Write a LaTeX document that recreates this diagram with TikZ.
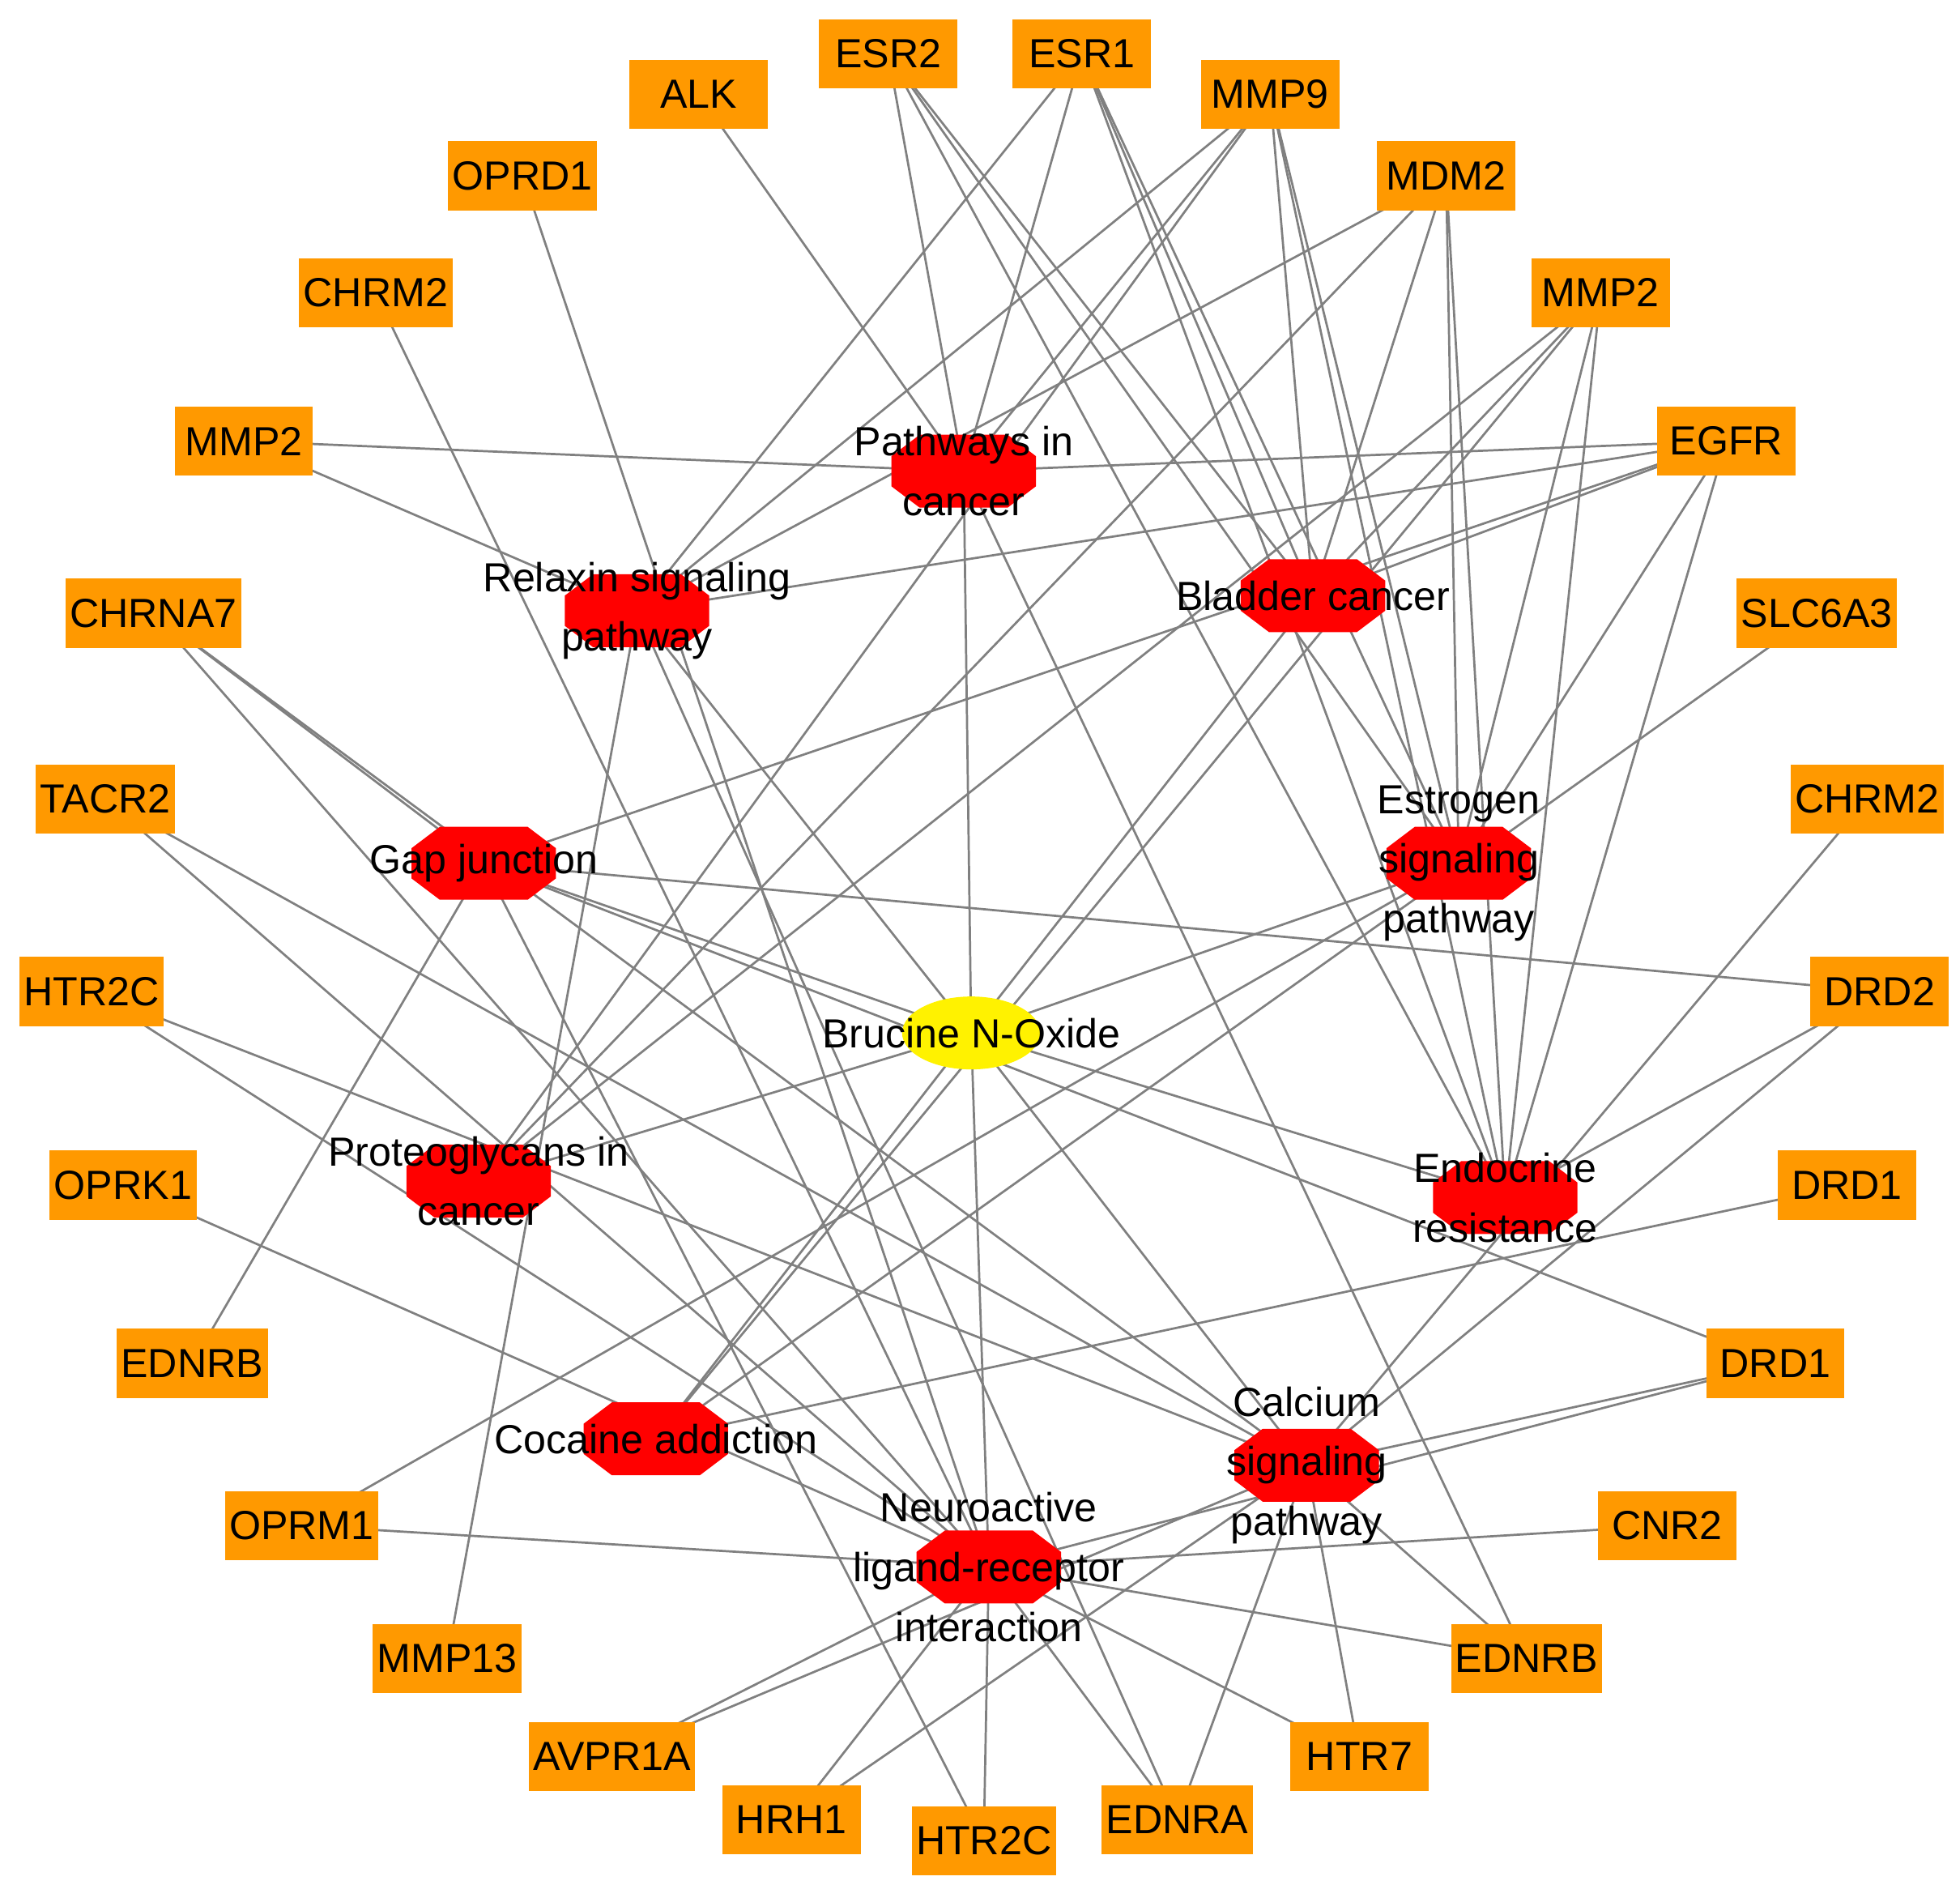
\documentclass[tikz,border=0pt]{standalone}
\usepackage{fontspec}
\setmainfont{Liberation Sans}
\definecolor{gbox}{RGB}{255,153,0}
\definecolor{gedge}{RGB}{128,128,128}
\tikzset{
 gene/.style={fill=gbox,minimum width=1.1cm,minimum height=0.55cm,inner sep=1pt,font=\fontsize{9.2}{10}\selectfont},
 lbl/.style={align=center,font=\fontsize{9.2}{13.5}\selectfont},
 link/.style={gedge,line width=0.5pt},
 octa/.pic={\fill[red] (-57.5,12)--(-35,29)--(35,29)--(57.5,12)--(57.5,-12)--(35,-29)--(-35,-29)--(-57.5,-12)--cycle;}
}
\begin{document}
\begin{tikzpicture}[x=0.01cm,y=-0.01cm]
\useasboundingbox (0,0) rectangle (1560,1500);
% pathway positions
\coordinate (pc) at (767,375);
\coordinate (rs) at (507,486);
\coordinate (bc) at (1045,474);
\coordinate (gj) at (385,687);
\coordinate (es) at (1161,687);
\coordinate (bno) at (773,822);
\coordinate (pg) at (381,940);
\coordinate (er) at (1198,953);
\coordinate (ca) at (522,1145);
\coordinate (cs) at (1040,1166);
\coordinate (nl) at (787,1247);
% gene positions
\foreach \n/\x/\y in {alk/556/75,esrb/707/43,esra/861/43,mmpix/1011/75,oprd/416/140,mdm/1151/140,
 chrma/299/233,mmpa/1274/233,mmpb/194/351,egfr/1374/351,chrna/122/488,slc/1446/488,
 tacr/84/636,chrmb/1486/636,htra/73/789,drdii/1496/789,oprk/98/943,drda/1470/943,
 ednrba/153/1085,drdb/1413/1085,oprm/240/1214,cnr/1327/1214,mmpxiii/356/1320,ednrbb/1215/1320,
 avpr/487/1398,htrvii/1082/1398,hrh/630/1448,htrb/783/1465,ednra/937/1448}
 \coordinate (\n) at (\x,\y);
% connectors
\foreach \p in {pc,rs,bc,gj,es,pg,er,ca,cs,nl} \draw[link] (bno) -- (\p);
\foreach \a/\b in {alk/pc,esrb/pc,esrb/bc,esrb/es,esrb/er,esra/pc,esra/rs,esra/bc,esra/es,esra/er,
 mmpix/pc,mmpix/rs,mmpix/pg,mmpix/bc,mmpix/es,mmpix/er,mdm/rs,mdm/bc,mdm/es,mdm/er,mdm/pg,
 mmpa/bc,mmpa/es,mmpa/er,mmpa/pg,mmpa/ca,egfr/pc,egfr/rs,egfr/bc,egfr/es,egfr/er,egfr/gj,
 oprd/nl,chrma/nl,mmpb/pc,mmpb/rs,chrna/gj,chrna/nl,chrna/cs,tacr/nl,tacr/cs,htra/nl,htra/cs,
 oprk/nl,ednrba/gj,oprm/nl,oprm/es,mmpxiii/rs,avpr/nl,avpr/cs,hrh/nl,hrh/cs,htrb/gj,htrb/nl,
 ednra/nl,ednra/cs,ednra/rs,htrvii/nl,htrvii/cs,ednrbb/nl,ednrbb/cs,ednrbb/pc,cnr/nl,
 drdb/nl,drdb/cs,drdb/gj,drda/ca,drdii/gj,drdii/cs,drdii/er,chrmb/cs,slc/ca}
 \draw[link] (\a) -- (\b);
% gene boxes
\foreach \n/\t in {alk/ALK,esrb/ESR2,esra/ESR1,mmpix/MMP9,oprd/OPRD1,mdm/MDM2,chrma/CHRM2,mmpa/MMP2,
 mmpb/MMP2,egfr/EGFR,chrna/CHRNA7,slc/SLC6A3,tacr/TACR2,chrmb/CHRM2,htra/HTR2C,drdii/DRD2,
 oprk/OPRK1,drda/DRD1,ednrba/EDNRB,drdb/DRD1,oprm/OPRM1,cnr/CNR2,mmpxiii/MMP13,ednrbb/EDNRB,
 avpr/AVPR1A,htrvii/HTR7,hrh/HRH1,htrb/HTR2C,ednra/EDNRA}
 \node[gene] at (\n) {\t};
% pathway octagons
\foreach \p in {pc,rs,bc,gj,es,pg,er,ca,cs,nl} \pic at (\p) {octa};
\fill[yellow] (bno) ellipse (55 and 29);
\node[lbl] at (pc) {Pathways in\\cancer};
\node[lbl] at (rs) {Relaxin signaling\\pathway};
\node[lbl] at (bc) {Bladder cancer};
\node[lbl] at (gj) {Gap junction};
\node[lbl] at (es) {Estrogen\\signaling\\pathway};
\node[lbl] at (bno) {Brucine N-Oxide};
\node[lbl] at (pg) {Proteoglycans in\\cancer};
\node[lbl] at (er) {Endocrine\\resistance};
\node[lbl] at (ca) {Cocaine addiction};
\node[lbl] at (cs) {Calcium\\signaling\\pathway};
\node[lbl] at (nl) {Neuroactive\\ligand-receptor\\interaction};
\end{tikzpicture}
\end{document}
